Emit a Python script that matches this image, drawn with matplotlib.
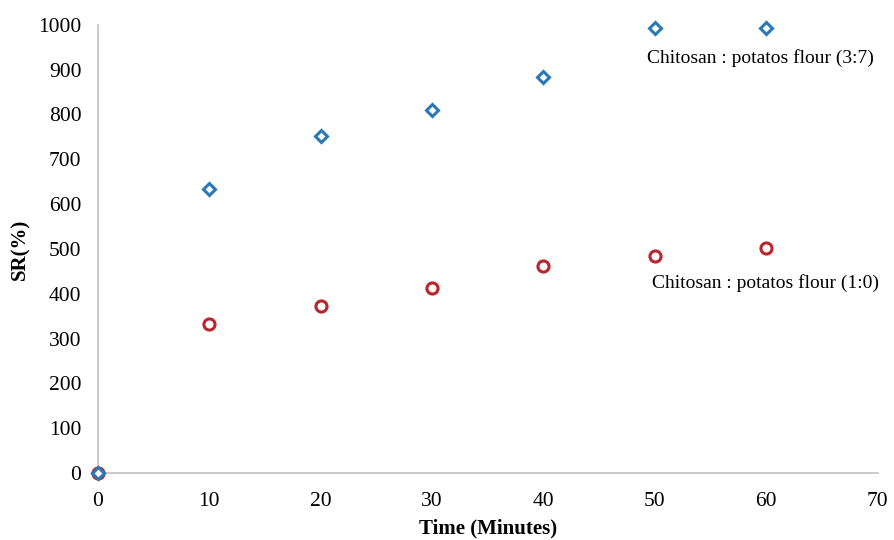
import numpy as np
import matplotlib.pyplot as plt

plt.rcParams['font.family'] = ['Liberation Serif', 'DejaVu Serif']

# Data
time_min = [0, 10, 20, 30, 40, 50, 60]
sr_37 = [0, 634, 752, 810, 884, 993, 993]   # Chitosan : potatos flour (3:7)
sr_10 = [0, 332, 373, 412, 462, 484, 503]   # Chitosan : potatos flour (1:0)

fig = plt.figure(figsize=(8.95, 5.40), dpi=100)
ax = fig.add_axes([0.1095, 0.124, 0.871, 0.83])

ax.plot(time_min, sr_10, ls='none', marker='o', ms=8, mfc='white',
        mec='#b8252c', mew=2.2, zorder=3)
ax.plot(time_min, sr_37, ls='none', marker='D', ms=6.5, mfc='white',
        mec='#2b78b8', mew=2.2, zorder=4)

ax.text(59.5, 926, 'Chitosan : potatos flour (3:7)', fontsize=14,
        ha='center', va='center')
ax.text(59.9, 424, 'Chitosan : potatos flour (1:0)', fontsize=14,
        ha='center', va='center')

ax.set_xlim(0, 70)
ax.set_ylim(0, 1000)
ax.set_xticks(np.arange(0, 71, 10))
ax.set_yticks(np.arange(0, 1001, 100))
ax.tick_params(axis='y', length=0, labelsize=15.5, pad=12)
ax.tick_params(axis='x', length=0, labelsize=15.5, pad=14)

for s in ['top', 'right']:
    ax.spines[s].set_visible(False)
for s in ['left', 'bottom']:
    ax.spines[s].set_color('#c0c0c0')
    ax.spines[s].set_linewidth(1.2)

ax.set_xlabel('Time (Minutes)', fontsize=15, fontweight='bold', va='center')
ax.set_ylabel('SR(%)', fontsize=15, fontweight='bold', va='center')
ax.xaxis.set_label_coords(0.5, -0.123)
ax.yaxis.set_label_coords(-0.1, 0.5)

for m in ax.lines:
    m.set_clip_on(False)

fig.savefig('out.png', dpi=100)
